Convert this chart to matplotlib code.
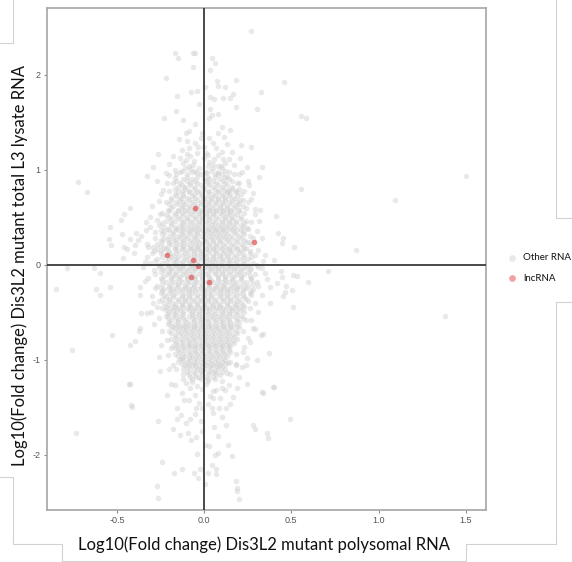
import matplotlib
matplotlib.use("Agg")
import matplotlib.pyplot as plt
from matplotlib.lines import Line2D

plt.rcParams["axes.unicode_minus"] = False

# ---- data: log10 fold changes (polysomal, total lysate) ----
# dense centre of the "Other RNA" cloud, one row per lysate value
other_core_rows = [
    (1.04, [-0.09, 0.02, 0.08]),
    (1.015, [-0.11, -0.03, 0.05, 0.10]),
    (0.99, [-0.13, -0.05, 0.04, 0.12]),
    (0.97, [-0.14, -0.07, 0.01, 0.08, 0.14]),
    (0.95, [-0.16, -0.10, -0.02, 0.06, 0.10, 0.17]),
    (0.925, [-0.10, -0.04, 0.02, 0.06, 0.12]),
    (0.90, [-0.12, -0.07, 0.00, 0.03, 0.09, 0.14]),
    (0.88, [-0.16, -0.10, -0.05, 0.01, 0.05, 0.11, 0.16]),
    (0.86, [-0.18, -0.14, -0.08, -0.04, 0.02, 0.07, 0.12, 0.19]),
    (0.84, [-0.13, -0.08, -0.02, 0.03, 0.08, 0.13]),
    (0.82, [-0.15, -0.11, -0.05, 0.00, 0.05, 0.10, 0.16]),
    (0.80, [-0.17, -0.11, -0.06, 0.00, 0.06, 0.11, 0.16, 0.20]),
    (0.78, [-0.20, -0.13, -0.09, -0.03, 0.03, 0.08, 0.13, 0.18, 0.23]),
    (0.76, [-0.15, -0.09, -0.04, 0.02, 0.08, 0.13, 0.18]),
    (0.74, [-0.17, -0.12, -0.06, -0.01, 0.05, 0.11, 0.15, 0.21]),
    (0.72, [-0.16, -0.12, -0.07, -0.02, 0.02, 0.06, 0.10, 0.14, 0.19]),
    (0.70, [-0.19, -0.14, -0.10, -0.05, 0.00, 0.04, 0.08, 0.12, 0.17]),
    (0.68, [-0.19, -0.14, -0.09, -0.04, 0.00, 0.04, 0.08, 0.12, 0.16, 0.22]),
    (0.66, [-0.22, -0.16, -0.12, -0.07, -0.02, 0.02, 0.06, 0.10, 0.14, 0.19, 0.25]),
    (0.64, [-0.20, -0.15, -0.11, -0.06, -0.02, 0.02, 0.07, 0.11, 0.16, 0.20]),
    (0.62, [-0.18, -0.13, -0.09, -0.04, 0.00, 0.04, 0.09, 0.13, 0.18, 0.22]),
    (0.60, [-0.19, -0.13, -0.08, -0.04, 0.01, 0.05, 0.09, 0.13, 0.17]),
    (0.58, [-0.21, -0.15, -0.11, -0.06, -0.02, 0.03, 0.07, 0.11, 0.15, 0.20]),
    (0.56, [-0.20, -0.15, -0.10, -0.05, -0.01, 0.03, 0.07, 0.11, 0.15, 0.20]),
    (0.54, [-0.24, -0.17, -0.13, -0.08, -0.03, 0.01, 0.05, 0.09, 0.13, 0.17, 0.23]),
    (0.52, [-0.22, -0.17, -0.12, -0.07, -0.03, 0.01, 0.05, 0.10, 0.14, 0.19]),
    (0.50, [-0.20, -0.15, -0.10, -0.05, -0.01, 0.03, 0.07, 0.12, 0.16, 0.21]),
    (0.48, [-0.19, -0.14, -0.10, -0.05, -0.01, 0.03, 0.08, 0.12, 0.16, 0.21]),
    (0.46, [-0.22, -0.17, -0.12, -0.08, -0.03, 0.01, 0.05, 0.10, 0.14, 0.18, 0.24]),
    (0.44, [-0.24, -0.19, -0.12, -0.07, -0.03, 0.02, 0.06, 0.10, 0.14, 0.18, 0.23]),
    (0.42, [-0.26, -0.19, -0.14, -0.10, -0.05, -0.01, 0.04, 0.08, 0.12, 0.16, 0.21]),
    (0.40, [-0.23, -0.17, -0.13, -0.08, -0.04, 0.01, 0.05, 0.09, 0.13, 0.17, 0.22]),
    (0.38, [-0.21, -0.16, -0.12, -0.07, -0.03, 0.02, 0.06, 0.10, 0.14, 0.19, 0.25]),
    (0.36, [-0.25, -0.20, -0.15, -0.10, -0.06, -0.01, 0.03, 0.07, 0.11, 0.16, 0.21]),
    (0.34, [-0.28, -0.23, -0.18, -0.13, -0.09, -0.04, 0.00, 0.04, 0.08, 0.12, 0.17, 0.22]),
    (0.32, [-0.24, -0.18, -0.13, -0.08, -0.04, 0.01, 0.05, 0.09, 0.13, 0.18, 0.23]),
    (0.30, [-0.20, -0.15, -0.11, -0.06, -0.02, 0.03, 0.07, 0.11, 0.15, 0.20, 0.26]),
    (0.28, [-0.23, -0.18, -0.14, -0.10, -0.05, 0.00, 0.04, 0.08, 0.12, 0.16, 0.21, 0.28]),
    (0.26, [-0.25, -0.21, -0.17, -0.12, -0.08, -0.04, 0.01, 0.05, 0.09, 0.13, 0.18, 0.23]),
    (0.24, [-0.24, -0.20, -0.16, -0.12, -0.07, -0.03, 0.01, 0.05, 0.09, 0.14, 0.19, 0.24]),
    (0.22, [-0.27, -0.19, -0.14, -0.10, -0.05, -0.01, 0.03, 0.07, 0.11, 0.16, 0.21, 0.27]),
    (0.20, [-0.25, -0.21, -0.16, -0.12, -0.08, -0.04, 0.03, 0.07, 0.12, 0.17, 0.22]),
    (0.18, [-0.23, -0.17, -0.12, -0.07, -0.03, 0.01, 0.05, 0.09, 0.14, 0.19, 0.24]),
    (0.16, [-0.27, -0.22, -0.17, -0.13, -0.08, -0.04, 0.01, 0.05, 0.10, 0.14, 0.19, 0.23]),
    (0.14, [-0.29, -0.25, -0.20, -0.15, -0.10, -0.06, -0.02, 0.03, 0.07, 0.12, 0.16, 0.21, 0.26]),
    (0.12, [-0.25, -0.20, -0.16, -0.11, -0.06, -0.02, 0.02, 0.07, 0.11, 0.15, 0.20, 0.26]),
    (0.10, [-0.22, -0.18, -0.13, -0.08, -0.04, 0.00, 0.05, 0.09, 0.13, 0.18, 0.23, 0.29]),
    (0.08, [-0.24, -0.19, -0.15, -0.10, -0.06, -0.02, 0.01, 0.05, 0.09, 0.13, 0.17, 0.22, 0.27]),
    (0.06, [-0.27, -0.20, -0.16, -0.11, -0.06, -0.02, 0.03, 0.07, 0.11, 0.15, 0.20, 0.25]),
    (0.04, [-0.28, -0.22, -0.17, -0.12, -0.08, -0.04, 0.01, 0.05, 0.10, 0.14, 0.18, 0.23]),
    (0.02, [-0.31, -0.24, -0.18, -0.14, -0.09, -0.05, 0.00, 0.04, 0.08, 0.13, 0.17, 0.22, 0.28]),
    (0.00, [-0.26, -0.21, -0.16, -0.12, -0.07, -0.03, 0.02, 0.06, 0.10, 0.15, 0.20, 0.25, 0.30]),
    (-0.02, [-0.26, -0.21, -0.16, -0.12, -0.07, -0.03, 0.02, 0.06, 0.10, 0.15, 0.19, 0.24, 0.31]),
    (-0.04, [-0.24, -0.19, -0.14, -0.09, -0.05, 0.00, 0.04, 0.08, 0.13, 0.17, 0.22, 0.27]),
    (-0.06, [-0.23, -0.19, -0.14, -0.10, -0.05, -0.01, 0.04, 0.08, 0.12, 0.17, 0.21, 0.26]),
    (-0.08, [-0.25, -0.20, -0.16, -0.11, -0.07, -0.02, 0.02, 0.06, 0.10, 0.15, 0.20, 0.25]),
    (-0.10, [-0.28, -0.21, -0.17, -0.12, -0.08, -0.03, 0.01, 0.06, 0.10, 0.14, 0.19, 0.23, 0.29]),
    (-0.12, [-0.23, -0.18, -0.14, -0.10, -0.05, -0.01, 0.03, 0.08, 0.12, 0.17, 0.21, 0.26]),
    (-0.14, [-0.25, -0.19, -0.15, -0.10, -0.06, -0.01, 0.03, 0.08, 0.12, 0.16, 0.21, 0.27]),
    (-0.16, [-0.24, -0.19, -0.14, -0.10, -0.05, -0.01, 0.04, 0.08, 0.12, 0.16, 0.21, 0.27]),
    (-0.18, [-0.22, -0.17, -0.13, -0.08, -0.04, 0.01, 0.05, 0.10, 0.14, 0.18, 0.24, 0.30]),
    (-0.20, [-0.24, -0.19, -0.15, -0.10, -0.06, -0.01, 0.03, 0.08, 0.12, 0.17, 0.22, 0.28]),
    (-0.22, [-0.27, -0.20, -0.15, -0.11, -0.06, -0.02, 0.03, 0.07, 0.11, 0.16, 0.20, 0.25]),
    (-0.24, [-0.25, -0.20, -0.16, -0.11, -0.07, -0.02, 0.02, 0.06, 0.11, 0.15, 0.19, 0.24]),
    (-0.26, [-0.23, -0.18, -0.13, -0.09, -0.04, 0.00, 0.05, 0.09, 0.13, 0.18, 0.22, 0.28]),
    (-0.28, [-0.24, -0.19, -0.14, -0.09, -0.05, 0.00, 0.04, 0.09, 0.13, 0.17, 0.22, 0.27]),
    (-0.30, [-0.25, -0.20, -0.16, -0.11, -0.07, -0.02, 0.02, 0.07, 0.11, 0.15, 0.20, 0.26]),
    (-0.32, [-0.23, -0.18, -0.13, -0.09, -0.04, 0.00, 0.04, 0.09, 0.13, 0.18, 0.22, 0.27]),
    (-0.34, [-0.22, -0.18, -0.13, -0.09, -0.04, 0.00, 0.04, 0.09, 0.13, 0.17, 0.23]),
    (-0.36, [-0.24, -0.20, -0.15, -0.11, -0.07, -0.02, 0.02, 0.06, 0.11, 0.15, 0.20, 0.24]),
    (-0.38, [-0.26, -0.20, -0.15, -0.11, -0.06, -0.02, 0.02, 0.06, 0.11, 0.15, 0.19, 0.25]),
    (-0.40, [-0.23, -0.18, -0.13, -0.09, -0.04, 0.00, 0.04, 0.08, 0.13, 0.17, 0.21]),
    (-0.42, [-0.21, -0.17, -0.13, -0.08, -0.04, 0.00, 0.05, 0.09, 0.13, 0.18, 0.22]),
    (-0.44, [-0.22, -0.17, -0.12, -0.08, -0.03, 0.01, 0.05, 0.09, 0.14, 0.18, 0.23]),
    (-0.46, [-0.24, -0.19, -0.15, -0.10, -0.06, -0.01, 0.03, 0.07, 0.11, 0.16, 0.20, 0.26]),
    (-0.48, [-0.22, -0.18, -0.14, -0.09, -0.05, -0.01, 0.03, 0.08, 0.12, 0.16, 0.21]),
    (-0.50, [-0.20, -0.16, -0.12, -0.07, -0.03, 0.01, 0.05, 0.10, 0.14, 0.18, 0.23]),
    (-0.52, [-0.21, -0.17, -0.12, -0.07, -0.03, 0.02, 0.06, 0.10, 0.14, 0.19]),
    (-0.54, [-0.22, -0.18, -0.14, -0.09, -0.05, -0.01, 0.04, 0.08, 0.12, 0.16, 0.21]),
    (-0.56, [-0.21, -0.16, -0.12, -0.07, -0.03, 0.01, 0.05, 0.09, 0.13, 0.18, 0.22]),
    (-0.58, [-0.19, -0.15, -0.11, -0.06, -0.02, 0.02, 0.06, 0.10, 0.14, 0.19, 0.24]),
    (-0.60, [-0.20, -0.15, -0.10, -0.06, -0.02, 0.02, 0.07, 0.11, 0.15, 0.20]),
    (-0.62, [-0.21, -0.17, -0.12, -0.08, -0.04, 0.00, 0.04, 0.09, 0.13, 0.17]),
    (-0.64, [-0.19, -0.15, -0.11, -0.06, -0.01, 0.02, 0.06, 0.11, 0.15, 0.19]),
    (-0.66, [-0.18, -0.14, -0.10, -0.06, -0.02, 0.03, 0.07, 0.11, 0.15, 0.20]),
    (-0.68, [-0.17, -0.12, -0.08, -0.04, 0.00, 0.04, 0.08, 0.12, 0.16]),
    (-0.70, [-0.20, -0.15, -0.11, -0.07, -0.03, 0.01, 0.05, 0.09, 0.13, 0.18, 0.22]),
    (-0.72, [-0.19, -0.14, -0.10, -0.06, -0.02, 0.02, 0.06, 0.10, 0.14, 0.19]),
    (-0.74, [-0.17, -0.13, -0.08, -0.04, 0.00, 0.04, 0.08, 0.12, 0.16]),
    (-0.76, [-0.16, -0.11, -0.07, -0.03, 0.01, 0.05, 0.09, 0.13, 0.17]),
    (-0.78, [-0.19, -0.14, -0.10, -0.06, -0.02, 0.02, 0.06, 0.10, 0.14, 0.19]),
    (-0.80, [-0.17, -0.13, -0.09, -0.05, 0.00, 0.04, 0.08, 0.12, 0.16]),
    (-0.82, [-0.16, -0.12, -0.08, -0.03, 0.01, 0.05, 0.09, 0.13, 0.17]),
    (-0.84, [-0.15, -0.10, -0.06, -0.02, 0.02, 0.06, 0.10, 0.14]),
    (-0.86, [-0.18, -0.13, -0.09, -0.05, -0.01, 0.03, 0.07, 0.11, 0.15]),
    (-0.88, [-0.16, -0.12, -0.08, -0.04, 0.00, 0.04, 0.09, 0.13]),
    (-0.90, [-0.15, -0.11, -0.06, -0.02, 0.02, 0.06, 0.10, 0.14]),
    (-0.92, [-0.14, -0.09, -0.05, -0.01, 0.03, 0.07, 0.11, 0.15]),
    (-0.94, [-0.17, -0.12, -0.08, -0.04, 0.00, 0.04, 0.08, 0.12, 0.18]),
    (-0.96, [-0.15, -0.11, -0.07, -0.03, 0.01, 0.05, 0.09, 0.13]),
    (-0.98, [-0.13, -0.09, -0.05, -0.01, 0.03, 0.07, 0.11]),
    (-1.00, [-0.12, -0.08, -0.04, 0.00, 0.04, 0.08, 0.12]),
    (-1.02, [-0.15, -0.10, -0.06, -0.02, 0.02, 0.06, 0.10, 0.15]),
    (-1.04, [-0.13, -0.09, -0.05, 0.00, 0.04, 0.08, 0.12]),
    (-1.06, [-0.11, -0.07, -0.03, 0.01, 0.05, 0.09]),
    (-1.08, [-0.10, -0.05, -0.01, 0.03, 0.07, 0.10]),
    (-1.10, [-0.12, -0.08, -0.04, 0.00, 0.04, 0.08, 0.12]),
    (-1.13, [-0.10, -0.06, -0.02, 0.02, 0.06, 0.10]),
    (-1.15, [-0.09, -0.05, -0.01, 0.03, 0.07]),
    (-1.18, [-0.08, -0.03, 0.01, 0.05]),
    (-1.20, [-0.07, -0.02, 0.02, 0.06]),
]

# scattered "Other RNA" genes outside the dense centre
other_sparse = [
    (0.268, 2.463), (-0.169, 2.225), (-0.149, 2.172), (-0.067, 2.225), (-0.054, 2.225),
    (0.042, 2.172), (0.061, 2.119), (-0.063, 2.084), (0.036, 2.049), (-0.222, 1.968),
    (0.071, 1.937), (0.182, 1.944), (0.458, 1.926), (0.080, 1.881), (0.119, 1.874),
    (-0.073, 1.821), (-0.040, 1.832), (0.004, 1.867), (-0.155, 1.775), (0.033, 1.768),
    (0.056, 1.740), (0.109, 1.751), (0.148, 1.751), (0.167, 1.796), (0.324, 1.814),
    (-0.029, 1.691), (0.182, 1.663), (0.305, 1.642), (-0.163, 1.621), (0.033, 1.635),
    (-0.230, 1.540), (0.029, 1.540), (0.042, 1.575), (0.554, 1.565), (0.584, 1.540),
    (-0.086, 1.411), (-0.105, 1.382), (-0.144, 1.319), (-0.015, 1.389), (-0.021, 1.330),
    (0.077, 1.382), (0.113, 1.340), (0.052, 1.277), (0.132, 1.267), (0.209, 1.260),
    (0.268, 1.242), (-0.268, 1.165), (-0.086, 1.225), (-0.034, 1.235), (-0.044, 1.179),
    (0.013, 1.179), (0.056, 1.109), (0.000, 1.119), (0.105, 1.109), (0.144, 1.109),
    (0.205, 1.119), (-0.293, 1.032), (-0.102, 1.102), (-0.063, 1.049), (-0.082, 1.004),
    (0.096, 1.039), (0.243, 1.025), (0.330, 1.025), (-0.328, 0.937), (-0.201, 0.944),
    (-0.169, 0.909), (-0.044, 0.961), (0.013, 0.961), (0.080, 0.954), (0.128, 0.926),
    (0.215, 0.979), (0.316, 0.926), (0.554, 0.793), (-0.216, 0.856), (-0.236, 0.786),
    (0.201, 0.856), (0.259, 0.839), (0.144, 0.786), (-0.259, 0.674), (0.266, 0.688),
    (0.205, 0.681), (-0.423, 0.593), (-0.462, 0.533), (-0.475, 0.470), (-0.312, 0.505),
    (-0.251, 0.533), (-0.335, 0.446), (-0.538, 0.393), (-0.469, 0.323), (-0.389, 0.337),
    (-0.335, 0.365), (-0.546, 0.267), (-0.533, 0.207), (-0.462, 0.182), (-0.423, 0.267),
    (-0.379, 0.260), (-0.398, 0.207), (-0.443, 0.161), (-0.404, 0.119), (-0.466, 0.067),
    (-0.322, 0.182), (-0.293, 0.182), (-0.328, 0.077), (-0.351, -0.021), (-0.600, -0.084),
    (-0.623, -0.260), (-0.538, -0.239), (-0.370, -0.232), (-0.341, -0.168), (-0.370, -0.319),
    (-0.360, -0.512), (-0.331, -0.505), (-0.293, -0.407), (-0.303, -0.495), (-0.370, -0.670),
    (-0.374, -0.695), (-0.531, -0.740), (-0.398, -0.800), (-0.423, -0.846), (-0.255, -1.116),
    (-0.203, -1.102), (-0.431, -1.256), (-0.418, -1.477), (-0.213, -1.372), (-0.188, -1.256),
    (-0.264, -1.642), (-0.178, -1.733), (-0.243, -2.074), (-0.270, -2.330), (-0.174, -2.189),
    (-0.125, -2.144), (-0.057, -2.196), (-0.034, -2.239), (-0.025, -2.144), (0.004, -2.302),
    (0.023, -2.196), (0.042, -2.109), (0.067, -2.154), (0.067, -2.204), (0.182, -2.274),
    (0.190, -2.344), (-0.044, -1.993), (0.061, -2.004), (0.077, -1.979), (0.157, -2.014),
    (0.136, -1.898), (-0.140, -1.789), (-0.092, -1.768), (-0.077, -1.846), (-0.048, -1.811),
    (-0.010, -1.747), (0.004, -1.898), (0.029, -1.909), (0.080, -1.804), (0.056, -1.705),
    (0.124, -1.688), (0.282, -1.688), (0.358, -1.775), (0.492, -1.618), (-0.155, -1.618),
    (-0.136, -1.582), (-0.102, -1.670), (-0.082, -1.618), (-0.048, -1.512), (-0.015, -1.502),
    (0.042, -1.512), (0.052, -1.558), (0.086, -1.512), (0.124, -1.502), (-0.159, -1.502),
    (-0.117, -1.425), (-0.054, -1.372), (0.033, -1.382), (0.067, -1.319), (0.119, -1.319),
    (0.163, -1.389), (0.243, -1.256), (0.330, -1.337), (0.397, -1.291), (-0.169, -1.267),
    (-0.102, -1.249), (-0.044, -1.277), (0.013, -1.256), (0.100, -1.302), (0.186, -1.302),
    (-0.048, -1.179), (-0.025, -1.109), (0.048, -1.126), (0.128, -1.137), (0.215, -1.074),
    (0.138, -1.039), (0.182, -1.046), (0.243, -0.986), (0.301, -1.004), (0.373, -0.926),
    (0.324, -0.740), (0.335, -0.730), (0.262, -0.811), (0.282, -0.670), (0.228, -0.870),
    (-0.140, -0.996), (-0.188, -0.881), (-0.216, -0.793), (-0.259, -0.968),
    (0.441, -0.063), (0.444, -0.126), (0.508, -0.109), (0.531, -0.119), (0.598, -0.179),
    (0.469, -0.225), (0.463, -0.284), (0.454, -0.326), (0.506, -0.267), (0.511, -0.442),
    (0.416, -0.196), (0.377, -0.239), (0.515, 0.189), (0.450, 0.277), (0.425, 0.337),
    (0.412, 0.512), (0.444, 0.232), (0.339, 0.042), (0.349, -0.091), (0.320, 0.575),
    (0.291, 0.582), (0.291, 0.533), (0.316, 0.463), (0.259, 0.242), (0.709, -0.063),
    (0.243, 0.382), (-0.726, 0.871), (-0.674, 0.765), (-0.850, -0.260), (-0.790, -0.040),
    (-0.630, -0.040), (-0.600, -0.320), (-0.760, -0.900), (-0.733, -1.770), (-0.426, -1.260),
    (-0.415, -1.500), (0.365, -1.820), (0.290, -1.730), (0.400, -1.290), (0.337, -1.350),
    (-0.266, -2.450), (0.200, -2.460), (0.186, -2.380), (0.868, 0.150), (1.096, 0.678),
    (1.500, 0.930), (1.383, -0.543),
    # fringe around the centre
    (-0.30, 0.62), (-0.27, 0.47), (-0.31, 0.40), (-0.28, 0.28), (-0.33, 0.22),
    (-0.30, 0.12), (-0.34, 0.03), (-0.29, -0.06), (-0.32, -0.14), (-0.28, -0.24),
    (-0.30, -0.33), (-0.27, -0.45), (-0.26, -0.56), (-0.29, -0.62), (-0.24, -0.70),
    (-0.25, -0.84), (-0.21, -0.95), (-0.36, 0.30), (-0.25, 0.74), (-0.22, 0.96),
    (-0.27, 0.88), (0.25, 0.88), (0.28, 0.75), (0.24, 0.60), (0.27, 0.45),
    (0.30, 0.35), (0.33, 0.28), (0.31, 0.15), (0.35, 0.10), (0.33, -0.03),
    (0.36, -0.15), (0.31, -0.22), (0.33, -0.32), (0.29, -0.40), (0.31, -0.50),
    (0.27, -0.58), (0.29, -0.68), (0.25, -0.77), (0.22, -0.92), (0.38, -0.40),
    (0.40, 0.05), (0.24, -1.05), (0.20, -1.18), (-0.20, 1.06), (-0.14, 1.12),
    (-0.10, 1.16), (0.03, 1.08), (0.08, 1.15), (0.17, 1.05), (-0.17, 1.00),
    (0.20, 0.95), (-0.16, -1.10), (-0.12, -1.20), (-0.08, -1.30), (0.10, -1.22),
    (0.15, -1.15), (0.18, -1.05), (-0.18, -1.05), (0.05, -1.40), (-0.03, -1.45),
    # upper and lower shoulders of the cloud
    (-0.12, 1.07), (-0.06, 1.09), (0.05, 1.06), (0.12, 1.07), (-0.08, 1.14),
    (0.02, 1.15), (0.10, 1.19), (-0.13, 1.21), (-0.05, 1.28), (0.07, 1.23),
    (0.16, 1.18), (-0.18, 1.14), (0.00, 1.24), (-0.10, 1.30), (0.03, 1.33),
    (0.10, 1.45), (-0.05, 1.48), (-0.12, 1.52), (0.15, 1.42), (0.08, 1.58),
    (-0.07, -1.23), (0.02, -1.22), (0.09, -1.16), (-0.12, -1.15), (0.14, -1.27),
    (-0.01, -1.31), (0.05, -1.33), (-0.13, -1.35), (0.09, -1.40), (-0.09, -1.42),
    (0.02, -1.47), (0.15, -1.46), (-0.05, -1.57), (0.10, -1.60), (-0.02, -1.64),
]

# long non-coding RNAs
lnc_x = [-0.052, 0.287, -0.216, -0.065, -0.034, -0.075, 0.029]
lnc_y = [0.596, 0.235, 0.105, 0.053, -0.011, -0.133, -0.186]

x_ticks = [-0.5, 0.0, 0.5, 1.0, 1.5]
x_tick_labels = ["-0.5", "0.0", "0.5", "1.0", "1.5"]
y_ticks = [-2, -1, 0, 1, 2]
y_tick_labels = ["-2", "-1", "0", "1", "2"]

x_title = "Log10(Fold change) Dis3L2 mutant polysomal RNA"
y_title = "Log10(Fold change) Dis3L2 mutant total L3 lysate RNA"
legend_labels = ["Other RNA", "lncRNA"]

# ---- assemble "Other RNA" coordinates ----
other_x, other_y = [], []
for yv, xs in other_core_rows:
    other_x.extend(xs)
    other_y.extend([yv] * len(xs))
for xv, yv in other_sparse:
    other_x.append(xv)
    other_y.append(yv)

W, H = 572, 562
fig = plt.figure(figsize=(W / 100, H / 100), dpi=100)
fig.patch.set_facecolor("white")

ax = fig.add_axes([47 / W, 1 - 510 / H, (485.7 - 47) / W, (510 - 7.5) / H])
ax.scatter(other_x, other_y, s=16, c="#cccccc", alpha=0.42, linewidths=0, zorder=2)
ax.scatter(lnc_x, lnc_y, s=16, c="#dd4f4f", alpha=0.7, linewidths=0, zorder=3)
ax.axhline(0, color="#3a3a3a", lw=1.3, zorder=4)
ax.axvline(0, color="#3a3a3a", lw=1.3, zorder=4)

ax.set_xlim(-0.902, 1.615)
ax.set_ylim(-2.58, 2.705)
ax.set_xticks(x_ticks)
ax.set_xticklabels(x_tick_labels)
ax.set_yticks(y_ticks)
ax.set_yticklabels(y_tick_labels)
ax.tick_params(axis="both", length=2.5, width=0.8, color="#8a8a8a",
               labelsize=6.5, labelcolor="#555555", pad=2)
for lab in ax.get_xticklabels() + ax.get_yticklabels():
    lab.set_fontfamily("Liberation Sans")
for sp in ax.spines.values():
    sp.set_color("#a6a6a6")
    sp.set_linewidth(1.2)

# axis titles
fig.text(264 / W, 1 - 545 / H, x_title, ha="center", va="center",
         fontsize=12, family="Lato", color="#111111")
fig.text(20 / W, 1 - 266 / H, y_title, ha="center", va="center", rotation=90,
         fontsize=12, family="Lato", color="#111111")

# legend
leg_colors = ["#e9e9e9", "#f3a0a0"]
leg_y = [258, 278]
for lab, col, yy in zip(legend_labels, leg_colors, leg_y):
    fig.add_artist(Line2D([512 / W], [1 - yy / H], marker="o", ms=3.8, color=col,
                          linestyle="none", transform=fig.transFigure))
    fig.text(523 / W, 1 - yy / H, lab, ha="left", va="center", fontsize=7,
             family="Lato", color="#111111")

# panel outline segments around the figure
frame_paths = [
    [(13, 0), (13, 43), (0, 43)],
    [(0, 477), (13, 477), (13, 544), (62, 544), (62, 561), (466, 561), (466, 544),
     (556, 544), (556, 302), (572, 302)],
    [(556, 0), (556, 218), (572, 218)],
]
for path in frame_paths:
    fig.add_artist(Line2D([p[0] / W for p in path], [1 - p[1] / H for p in path],
                          color="#d2d2d2", lw=0.8, transform=fig.transFigure))

fig.savefig("out.png", dpi=100)
